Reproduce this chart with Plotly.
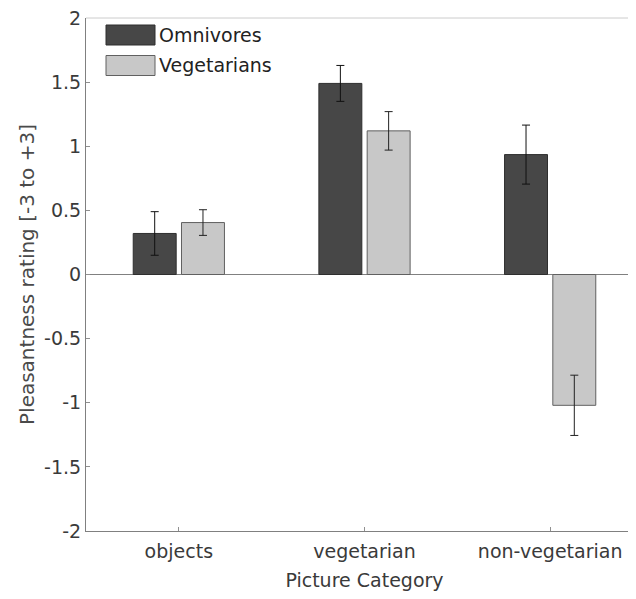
import plotly.graph_objects as go

categories = ["objects", "vegetarian", "non-vegetarian"]
omnivores = [0.32, 1.49, 0.935]
omnivores_err = [0.17, 0.14, 0.23]
vegetarians = [0.405, 1.12, -1.02]
vegetarians_err = [0.10, 0.15, 0.235]
series_names = ["Omnivores", "Vegetarians"]
y_ticks = [-2, -1.5, -1, -0.5, 0, 0.5, 1, 1.5, 2]
y_tick_labels = ["-2", "-1.5", "-1", "-0.5", "0", "0.5", "1", "1.5", "2"]

x_pos = [1, 2, 3]
dark = "#474747"
light = "#c8c8c8"
font = "DejaVu Sans"
txt = "#3a3a3a"

# page has an 8px body margin; the axes box runs past the right edge of the window,
# as in the reference (which is cropped there)
OFF = 8
W, H = 640, 599 - 2 * OFF
L, T, R = 86 - OFF, 18 - OFF, 5
B = H - (531 - OFF)

fig = go.Figure()
fig.add_trace(go.Bar(
    x=x_pos, y=omnivores, name=series_names[0],
    marker=dict(color=dark, line=dict(color="#2e2e2e", width=1)),
    error_y=dict(type="data", array=omnivores_err, color="#111111", thickness=1, width=4),
))
fig.add_trace(go.Bar(
    x=x_pos, y=vegetarians, name=series_names[1],
    marker=dict(color=light, line=dict(color="#606060", width=1)),
    error_y=dict(type="data", array=vegetarians_err, color="#222222", thickness=1, width=4),
))

fig.update_layout(
    template="none",
    width=W, height=H,
    margin=dict(l=L, r=R, t=T, b=B, autoexpand=False),
    paper_bgcolor="white", plot_bgcolor="white",
    barmode="group", bargap=0.48, bargroupgap=0.11,
    showlegend=False,
    font=dict(family=font, size=19, color=txt),
    xaxis=dict(
        range=[0.5, 3.5], tickvals=x_pos, ticktext=categories,
        showgrid=False, zeroline=False, automargin=False, mirror=False,
        showline=True, linecolor="#808080", linewidth=1,
        ticks="inside", ticklen=4, tickcolor="#909090", tickwidth=1,
        ticklabelstandoff=3, ticklabeloverflow="allow",
        tickfont=dict(family=font, size=19, color=txt),
        title=dict(text="Picture Category", standoff=18,
                   font=dict(family=font, size=19, color=txt)),
    ),
    yaxis=dict(
        range=[-2, 2], tickvals=y_ticks, ticktext=y_tick_labels,
        showgrid=False, zeroline=True, zerolinecolor="#808080", zerolinewidth=1,
        automargin=False, ticklabeloverflow="allow", mirror=False,
        showline=True, linecolor="#808080", linewidth=1,
        ticks="inside", ticklen=4, tickcolor="#909090", tickwidth=1,
        tickfont=dict(family=font, size=19, color=txt),
        title=dict(text="Pleasantness rating [-3 to +3]", standoff=4,
                   font=dict(family=font, size=20, color="#4a4a4a")),
    ),
)

# top border of axes box
fig.add_shape(type="line", xref="paper", yref="paper", x0=0, x1=1, y0=1, y1=1,
              line=dict(color="#cccccc", width=1))

# custom legend (positions given in page pixels)
plot_w = W - L - R
plot_h = H - T - B
def px_x(p):
    return (p - OFF - L) / plot_w
def px_y(p):
    return 1 - (p - OFF - T) / plot_h

legend_colors = [dark, light]
legend_edges = ["#2e2e2e", "#606060"]
legend_rows = [35, 65.5]
for name, col, edge, yc in zip(series_names, legend_colors, legend_edges, legend_rows):
    fig.add_shape(type="rect", xref="paper", yref="paper",
                  x0=px_x(106), x1=px_x(155), y0=px_y(yc - 10), y1=px_y(yc + 10),
                  fillcolor=col, line=dict(color=edge, width=1))
    fig.add_annotation(xref="paper", yref="paper", x=px_x(157), y=px_y(yc),
                       text=name, showarrow=False, xanchor="left", yanchor="middle",
                       font=dict(family=font, size=19, color="#222222"))

fig.write_html("out.html")
